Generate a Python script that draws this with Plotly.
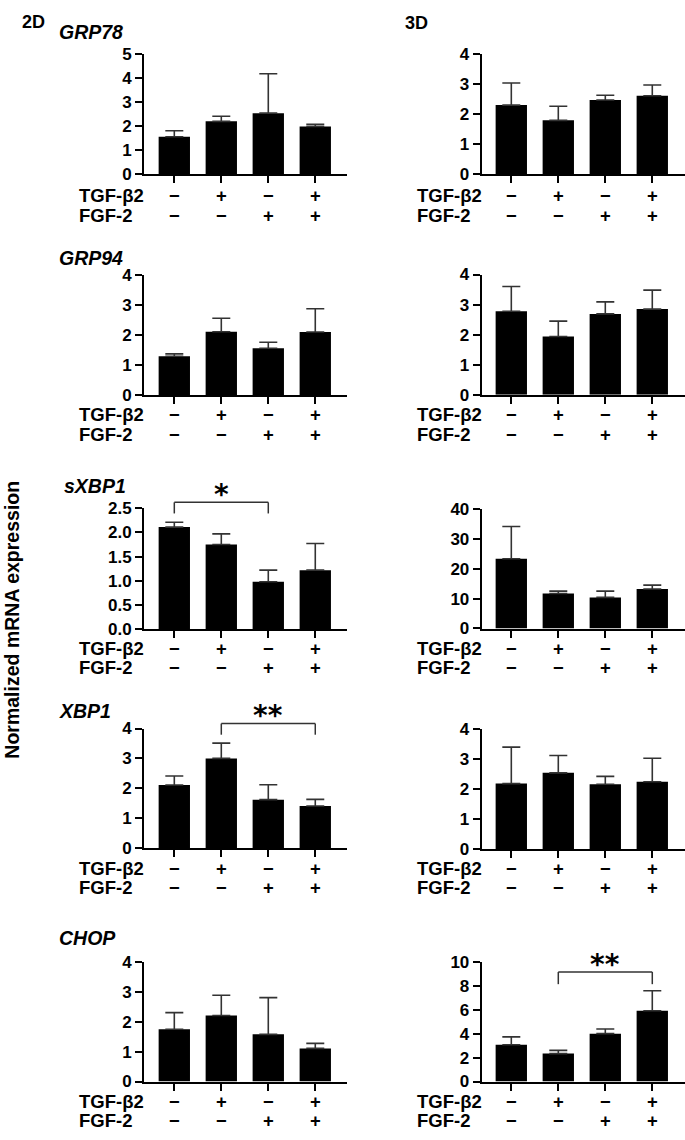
import plotly.graph_objects as go

# ---------------- data ----------------
conditions = ["Control", "TGF-β2", "FGF-2", "TGF-β2 + FGF-2"]
tgf_signs = ["−", "+", "−", "+"]
fgf_signs = ["−", "−", "+", "+"]
genes = ["GRP78", "GRP94", "sXBP1", "XBP1", "CHOP"]
culture = ["2D", "3D"]

grp78_2d = [1.57, 2.21, 2.55, 2.00]
grp78_2d_err = [0.25, 0.21, 1.64, 0.09]
grp78_3d = [2.30, 1.79, 2.47, 2.61]
grp78_3d_err = [0.74, 0.47, 0.16, 0.36]

grp94_2d = [1.30, 2.12, 1.57, 2.11]
grp94_2d_err = [0.08, 0.45, 0.20, 0.78]
grp94_3d = [2.78, 1.94, 2.69, 2.85]
grp94_3d_err = [0.82, 0.51, 0.40, 0.63]

sxbp1_2d = [2.11, 1.75, 0.98, 1.22]
sxbp1_2d_err = [0.10, 0.22, 0.24, 0.55]
sxbp1_3d = [23.3, 11.7, 10.4, 13.2]
sxbp1_3d_err = [10.8, 0.8, 2.1, 1.3]

xbp1_2d = [2.11, 3.00, 1.62, 1.41]
xbp1_2d_err = [0.30, 0.51, 0.50, 0.22]
xbp1_3d = [2.19, 2.55, 2.17, 2.25]
xbp1_3d_err = [1.22, 0.58, 0.26, 0.79]

chop_2d = [1.75, 2.21, 1.58, 1.11]
chop_2d_err = [0.56, 0.68, 1.23, 0.17]
chop_3d = [3.08, 2.34, 4.01, 5.93]
chop_3d_err = [0.66, 0.27, 0.39, 1.68]

# y-axis maxima and tick steps per panel
y_max_2d = [5, 4, 2.5, 4, 4]
y_dtick_2d = [1, 1, 0.5, 1, 1]
y_max_3d = [4, 4, 40, 4, 10]
y_dtick_3d = [1, 1, 10, 1, 2]

# significance brackets: (row, col, label, from condition, to condition)
significance = [
    (2, 0, "*", 0, 2),
    (3, 0, "**", 1, 3),
    (4, 1, "**", 1, 3),
]

means = [[grp78_2d, grp78_3d], [grp94_2d, grp94_3d], [sxbp1_2d, sxbp1_3d],
         [xbp1_2d, xbp1_3d], [chop_2d, chop_3d]]
errs = [[grp78_2d_err, grp78_3d_err], [grp94_2d_err, grp94_3d_err],
        [sxbp1_2d_err, sxbp1_3d_err], [xbp1_2d_err, xbp1_3d_err],
        [chop_2d_err, chop_3d_err]]

# ---------------- layout geometry (pixels) ----------------
W, H = 685, 1140
FONT = "Liberation Sans"
STAR_FONT = "DejaVu Sans"


def fx(x):
    return x / W


def fy(y):
    return 1 - y / H


col_x = [(144, 347), (481.7, 685)]
col_range = [(-0.645, 3.675), (-0.63, 3.696)]
row_y = [
    [(46, 168.3), (46, 167.7)],
    [(271, 392.7), (270, 392.3)],
    [(507.7, 630.7), (508.3, 630)],
    [(731.7, 853.3), (732.7, 854.3)],
    [(969.3, 1090.7), (969.3, 1090.7)],
]
sign_rows = [(190, 210), (412, 433), (650, 670), (874, 893.5), (1111, 1130.5)]
factor_label_x = [77, 415]
gene_label_pos = [(57, 23), (57, 253), (62, 485), (57, 714), (57, 945)]
bracket_px = {(2, 0): (501.7, 513), (3, 0): (726.7, 738), (4, 1): (979.3, 991.7)}
star_px = {(2, 0): 494, (3, 0): 718, (4, 1): 972}

fig = go.Figure()
layout = dict(
    width=W, height=H, autosize=False,
    margin=dict(l=0, r=0, t=0, b=0, pad=0),
    paper_bgcolor="white", plot_bgcolor="white",
    showlegend=False, bargap=0.333,
    font=dict(family=FONT, color="black"),
)
annotations = []
shapes = []

bold = dict(family=FONT, color="black", weight="bold")

for r in range(5):
    for c in range(2):
        k = r * 2 + c + 1
        xa, ya = f"x{k}", f"y{k}"
        fig.add_trace(go.Bar(
            x=conditions, y=means[r][c], xaxis=xa, yaxis=ya,
            marker=dict(color="black", line=dict(width=0)),
            error_y=dict(type="data", symmetric=False, array=errs[r][c],
                         arrayminus=[0] * len(conditions),
                         color="#333333", thickness=1.6, width=9),
        ))
        x0, x1 = col_x[c]
        yt, yb = row_y[r][c]
        ymax = y_max_2d[r] if c == 0 else y_max_3d[r]
        dt = y_dtick_2d[r] if c == 0 else y_dtick_3d[r]
        layout[f"xaxis{k}"] = dict(
            domain=[fx(x0), fx(x1)], anchor=ya, type="category",
            categoryorder="array", categoryarray=conditions,
            range=list(col_range[c]), showline=True, linewidth=2,
            linecolor="black", ticks="outside", ticklen=7, tickwidth=2,
            tickcolor="black", showticklabels=False, showgrid=False,
            zeroline=False, fixedrange=True,
        )
        layout[f"yaxis{k}"] = dict(
            domain=[fy(yb), fy(yt)], anchor=xa, range=[0, ymax], dtick=dt,
            tick0=0, tickformat=".1f" if dt < 1 else "d",
            showline=True, linewidth=2, linecolor="black", ticks="outside",
            ticklen=7, tickwidth=2, tickcolor="black", showgrid=False,
            zeroline=False, fixedrange=True,
            tickfont=dict(bold, size=17),
        )
        # factor rows
        ty, fyy = sign_rows[r]
        for lbl, yy in (("TGF-β2", ty), ("FGF-2", fyy)):
            annotations.append(dict(
                text=lbl, xref="paper", yref="paper", x=fx(factor_label_x[c]),
                y=fy(yy), xanchor="left", yanchor="middle", showarrow=False,
                font=dict(bold, size=18.5),
            ))
        for cond, s1, s2 in zip(conditions, tgf_signs, fgf_signs):
            for s, yy in ((s1, ty), (s2, fyy)):
                annotations.append(dict(
                    text=s, xref=xa, yref="paper", x=cond, y=fy(yy),
                    xanchor="center", yanchor="middle", showarrow=False,
                    font=dict(bold, size=18.5),
                ))

# gene labels
for g, (gx, gy) in zip(genes, gene_label_pos):
    annotations.append(dict(
        text=g, xref="paper", yref="paper", x=fx(gx), y=fy(gy),
        xanchor="left", yanchor="middle", showarrow=False,
        font=dict(bold, size=19.5, style="italic"),
    ))

# culture headers
for lbl, (hx, hy) in zip(culture, [(20, 13), (403, 14)]):
    annotations.append(dict(
        text=lbl, xref="paper", yref="paper", x=fx(hx), y=fy(hy),
        xanchor="left", yanchor="middle", showarrow=False,
        font=dict(bold, size=18),
    ))

# y title
annotations.append(dict(
    text="Normalized mRNA expression", xref="paper", yref="paper",
    x=fx(12), y=fy(621), xanchor="center", yanchor="middle", textangle=-90,
    showarrow=False, font=dict(bold, size=19.5),
))

# significance brackets
for r, c, lbl, a, b in significance:
    k = r * 2 + c + 1
    xa = f"x{k}"
    yh, yv = bracket_px[(r, c)]
    ca, cb = conditions[a], conditions[b]
    line = dict(color="#333333", width=1.5)
    shapes.append(dict(type="line", xref=xa, yref="paper", x0=ca, x1=cb,
                       y0=fy(yh), y1=fy(yh), line=line))
    shapes.append(dict(type="line", xref=xa, yref="paper", x0=ca, x1=ca,
                       y0=fy(yh), y1=fy(yv), line=line))
    shapes.append(dict(type="line", xref=xa, yref="paper", x0=cb, x1=cb,
                       y0=fy(yh), y1=fy(yv), line=line))
    mid = conditions[(a + b) // 2]
    annotations.append(dict(
        text=lbl, xref=xa, yref="paper", x=mid, y=fy(star_px[(r, c)]),
        xanchor="center", yanchor="middle", showarrow=False,
        font=dict(family=STAR_FONT, size=28, color="black", weight="bold"),
    ))

layout["annotations"] = annotations
layout["shapes"] = shapes
fig.update_layout(**layout)

fig.write_html("out.html", config={"displayModeBar": False},
               post_script="document.body.style.margin='0px';")
